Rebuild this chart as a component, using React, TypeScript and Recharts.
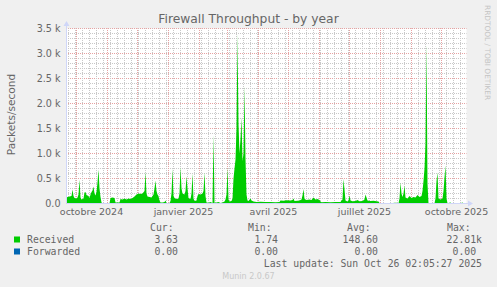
import React from 'react';
import { AreaChart, Area, XAxis, YAxis, CartesianGrid, ReferenceDot } from 'recharts';

// Day offsets from the left edge of the graph (1 day per pixel, 400 days shown)
const dayOffsets = [
  0, 1, 3, 5, 6, 7, 8, 10, 11, 12, 13, 14, 15, 17, 18, 19, 20, 22, 23, 24, 25, 26, 27, 28, 29, 30,
  31, 32, 33, 34, 35, 36, 43, 44, 46, 48, 49, 53, 54, 56, 58, 60, 62, 64, 66, 68, 70, 72, 74, 76,
  78, 79, 80, 81, 83, 85, 87, 88, 89, 90, 91, 92, 93, 94, 96, 98, 99, 100, 103, 104, 105, 106, 107,
  108, 110, 112, 113, 114, 115, 116, 117, 118, 119, 120, 121, 122, 124, 125, 126, 127, 128, 130,
  131, 132, 134, 136, 137, 138, 139, 140, 142, 144, 146, 147, 148, 150, 152, 154, 156, 158, 159,
  160, 161, 162, 163, 165, 166, 167, 168, 169, 170, 171, 172, 173, 174, 175, 176, 177, 178, 179,
  180, 181, 182, 184, 185, 187, 190, 194, 199, 204, 209, 213, 214, 217, 220, 224, 226, 227, 228,
  231, 233, 235, 236, 237, 238, 240, 243, 245, 247, 249, 251, 253, 254, 255, 259, 264, 269, 274,
  275, 276, 277, 278, 279, 281, 282, 283, 284, 286, 289, 291, 293, 296, 298, 299, 300, 301, 304,
  307, 310, 312, 313, 317, 321, 325, 328, 330, 332, 333, 334, 335, 336, 337, 338, 339, 341, 343,
  345, 347, 349, 351, 353, 355, 356, 357, 358, 359, 360, 361, 362, 365, 368, 369, 370, 371, 372,
  374, 376, 377, 378, 379, 380, 381, 384, 385, 389, 394, 396, 397, 400,
];

// Received packets/second
const receivedValues = [
  120, 130, 140, 150, 280, 150, 110, 100, 120, 180, 480, 120, 80, 100, 220, 230, 170, 150, 110, 180, 230, 260, 340, 200, 160, 230,
  420, 680, 300, 130, 20, 5, 5, 110, 120, 110, 20, 20, 90, 80, 100, 80, 100, 90, 110, 140, 180, 200, 190, 200,
  250, 630, 200, 140, 130, 120, 180, 300, 460, 250, 180, 150, 60, 20, 20, 30, 60, 10, 10, 50, 200, 690, 150,
  110, 90, 100, 200, 730, 300, 200, 190, 180, 250, 540, 300, 110, 90, 200, 600, 100, 50, 60,
  150, 190, 180, 200, 250, 620, 150, 20, 15, 30, 10, 1380, 15, 20, 30, 10, 20, 40, 80,
  180, 720, 80, 40, 50, 100, 500, 700, 880, 1500, 3400, 1600, 1000, 1300, 1720, 850, 1000, 2350, 900,
  180, 60, 50, 100, 60, 40, 30, 35, 30, 30, 25, 30, 60, 55, 65, 60, 70, 100, 50,
  55, 60, 80, 160, 290, 90, 70, 80, 70, 120, 80, 90, 70, 40, 25, 30, 25, 30, 30,
  60, 80, 490, 280, 60, 40, 60, 160, 60, 45, 50, 70, 45, 50, 80, 180, 120, 60, 50,
  55, 45, 40, 10, 5, 5, 5, 15, 15, 5, 100, 420, 200, 130, 200, 360, 120, 100, 150,
  110, 130, 120, 170, 130, 150, 250, 450, 700, 1200, 3200, 400, 5, 5, 5, 100, 450, 620, 100,
  80, 100, 250, 520, 760, 100, 5, 20, 5, 5, 5, 20, 5, 5,
];

const data = dayOffsets.map((d, i) => ({ day: d, received: receivedValues[i] }));

// Month starts (Oct 2024 .. Oct 2025) and quarter labels (mid-month)
const monthStarts = [10, 41, 71, 102, 133, 161, 192, 222, 253, 283, 314, 345, 375];
const labelDays = [25, 117, 207, 298, 390];
const xLabels = ['octobre 2024', 'janvier 2025', 'avril 2025', 'juillet 2025', 'octobre 2025'];
const weekDays = Array.from({ length: 57 }, (_, k) => 2 + 7 * k);

const majorY = [0, 500, 1000, 1500, 2000, 2500, 3000, 3500];
const minorY = Array.from({ length: 36 }, (_, k) => k * 100).filter((v) => v % 500 !== 0);

// grid values: minor ones first, major ones last (drawn on top)
const gridX = [...weekDays, ...monthStarts];
const gridY = [...minorY, ...majorY];

const legendNames = ['Received', 'Forwarded'];
const legendColors = ['#00cc00', '#0066b3'];
const curValues = ['3.63', '0.00'];
const minValues = ['1.74', '0.00'];
const avgValues = ['148.60', '0.00'];
const maxValues = ['22.81k', '0.00 '];

const W = 497;
const H = 287;
const SANS = 'DejaVu Sans, sans-serif';
const MONO = 'DejaVu Sans Mono, monospace';
const AXIS = '#CFD6F8';
const FONT_COLOR = '#666666';
const MINOR = '#c8c8c8';
const MAJOR = '#e6a2a2';

const gridLine = (p: any, major: boolean) => (
  <line
    key={p.key}
    x1={p.x1}
    y1={p.y1}
    x2={p.x2}
    y2={p.y2}
    stroke={major ? MAJOR : MINOR}
    strokeDasharray="1 1"
    strokeDashoffset={0.5}
    strokeWidth={1}
    fill="none"
  />
);
const renderV = (p: any) => gridLine(p, p.index >= weekDays.length);
const renderH = (p: any) => gridLine(p, p.index >= minorY.length);

const xArrow = (p: any) => (
  <g>
    <line x1={p.cx} y1={p.cy} x2={p.cx + 2} y2={p.cy} stroke={AXIS} />
    <path d={`M${p.cx + 1.5} ${p.cy - 3}L${p.cx + 6.5} ${p.cy}L${p.cx + 1.5} ${p.cy + 3}Z`} fill={AXIS} />
  </g>
);
const yArrow = (p: any) => (
  <g>
    <line x1={p.cx} y1={p.cy} x2={p.cx} y2={p.cy - 3} stroke={AXIS} />
    <path d={`M${p.cx - 3} ${p.cy - 2.5}L${p.cx} ${p.cy - 7.5}L${p.cx + 3} ${p.cy - 2.5}Z`} fill={AXIS} />
  </g>
);

export default function App() {
  const rowsY = [242.5, 254.5];
  return (
    <div style={{ position: 'absolute', left: 0, top: 0, width: W, height: H, background: '#f0f0f0', overflow: 'hidden' }}>
      <AreaChart width={W} height={H} data={data} margin={{ top: 28.5, right: 30.5, bottom: 63.5, left: 0 }}>
        <XAxis
          type="number"
          dataKey="day"
          domain={[0, 400]}
          allowDataOverflow
          ticks={labelDays}
          interval={0}
          tickFormatter={(v: number) => xLabels[labelDays.indexOf(v)] ?? ''}
          tickLine={false}
          tickSize={0}
          tickMargin={5}
          height={20}
          axisLine={{ stroke: AXIS }}
          tick={{ fill: FONT_COLOR, fontSize: 9.5, fontFamily: SANS }}
        />
        <YAxis
          width={66.5}
          domain={[0, 3500]}
          ticks={majorY}
          interval={0}
          allowDataOverflow
          tickFormatter={(v: number) => (v === 0 ? '0.0' : (v / 1000).toFixed(1) + ' k')}
          tickLine={false}
          tickSize={0}
          tickMargin={6}
          axisLine={{ stroke: AXIS }}
          tick={{ fill: FONT_COLOR, fontSize: 9.6, fontFamily: SANS }}
        />
        <CartesianGrid
          fill="#ffffff"
          horizontalValues={gridY}
          verticalValues={gridX}
          horizontal={renderH}
          vertical={renderV}
        />
        <Area
          type="linear"
          dataKey="received"
          stroke="none"
          fill="#00cc00"
          fillOpacity={1}
          isAnimationActive={false}
          dot={false}
          activeDot={false}
        />
        <ReferenceDot x={400} y={0} r={0} ifOverflow="visible" shape={xArrow} />
        <ReferenceDot x={0} y={3500} r={0} ifOverflow="visible" shape={yArrow} />
      </AreaChart>
      <svg width={W} height={H} style={{ position: 'absolute', left: 0, top: 0, pointerEvents: 'none' }}>
        <text x={248.5} y={23} textAnchor="middle" fontFamily={SANS} fontSize={12.3} fill={FONT_COLOR}>
          Firewall Throughput - by year
        </text>
        <text
          x={14.5}
          y={114.5}
          textAnchor="middle"
          fontFamily={SANS}
          fontSize={10.6}
          fill={FONT_COLOR}
          transform="rotate(-90 14.5 114.5)"
        >
          Packets/second
        </text>
        <text x={484.5} y={5} fontFamily={SANS} fontSize={7.4} fill="#c4c4c4" transform="rotate(90 484.5 5)">
          RRDTOOL / TOBI OETIKER
        </text>
        <g fontFamily={MONO} fontSize={9.8} fill={FONT_COLOR}>
          <text x={150} y={230.5}>Cur:</text>
          <text x={248} y={230.5}>Min:</text>
          <text x={347} y={230.5}>Avg:</text>
          <text x={447} y={230.5}>Max:</text>
          {legendNames.map((name, i) => (
            <g key={name}>
              <rect x={14} y={rowsY[i] - 6} width={6} height={6} fill={legendColors[i]} />
              <text x={27} y={rowsY[i]}>{name}</text>
              <text x={178} y={rowsY[i]} textAnchor="end">{curValues[i]}</text>
              <text x={278} y={rowsY[i]} textAnchor="end">{minValues[i]}</text>
              <text x={378} y={rowsY[i]} textAnchor="end">{avgValues[i]}</text>
              <text x={482} y={rowsY[i]} textAnchor="end" style={{ whiteSpace: 'pre' }}>{maxValues[i]}</text>
            </g>
          ))}
          <text x={482} y={266.5} textAnchor="end">Last update: Sun Oct 26 02:05:27 2025</text>
        </g>
        <text x={248.5} y={279} textAnchor="middle" fontFamily={SANS} fontSize={8} fill="#c8c8c8">
          Munin 2.0.67
        </text>
      </svg>
    </div>
  );
}
